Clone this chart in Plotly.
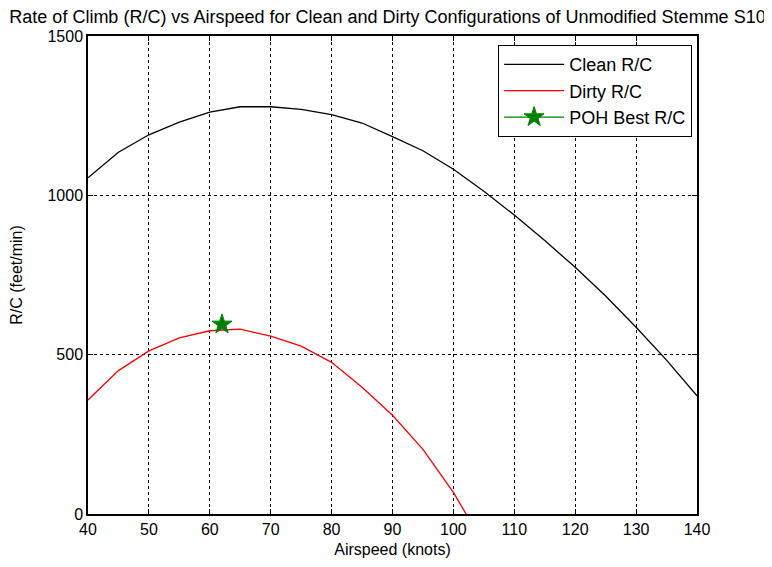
import plotly.graph_objects as go

airspeed = [40, 45, 50, 55, 60, 65, 70, 75, 80, 85, 90, 95, 100, 105, 110, 115, 120, 125, 130, 135, 140]
clean_rc = [1055, 1135, 1190, 1230, 1261, 1278, 1278, 1270, 1253, 1227, 1184, 1140, 1082, 1013, 938, 858, 774, 684, 586, 483, 371]
dirty_speed = [40, 45, 50, 55, 60, 65, 70, 75, 80, 85, 90, 95, 100, 105]
dirty_rc = [358, 450, 512, 553, 575, 580, 558, 527, 476, 398, 310, 203, 68, -95]
poh_speed = [62]
poh_rc = [595]

xticks = [40, 50, 60, 70, 80, 90, 100, 110, 120, 130, 140]
yticks = [0, 500, 1000, 1500]

FONT = "Liberation Sans, Arial, sans-serif"

fig = go.Figure()
fig.add_trace(go.Scatter(x=airspeed, y=clean_rc, mode="lines", name="Clean R/C",
                         line=dict(color="black", width=1.3)))
fig.add_trace(go.Scatter(x=dirty_speed, y=dirty_rc, mode="lines", name="Dirty R/C",
                         line=dict(color="red", width=1.3)))
fig.add_trace(go.Scatter(x=poh_speed, y=poh_rc, mode="lines+markers", name="POH Best R/C",
                         line=dict(color="green", width=1.3),
                         marker=dict(symbol="star", size=15, color="green",
                                     line=dict(color="green", width=1))))

axis_common = dict(
    showline=True, linecolor="black", linewidth=1.5, mirror="ticks",
    ticks="inside", ticklen=5, tickcolor="black", tickwidth=1,
    showgrid=True, gridcolor="black", griddash="dot", gridwidth=1,
    zeroline=False, automargin=False,
    tickfont=dict(family=FONT, size=16, color="black"),
)

fig.update_layout(
    width=772, height=567,
    margin=dict(l=80, r=83, t=28, b=61),
    paper_bgcolor="white", plot_bgcolor="white",
    font=dict(family=FONT, size=16, color="black"),
    title=dict(text="Rate of Climb (R/C) vs Airspeed for Clean and Dirty Configurations of Unmodified Stemme S10",
               x=0.4916, xanchor="center", y=0.984, yanchor="middle",
               font=dict(family=FONT, size=18, color="black")),
    xaxis=dict(range=[40, 140], tickvals=xticks,
               title=dict(text="Airspeed (knots)", standoff=7,
                          font=dict(family=FONT, size=16, color="black")),
               **axis_common),
    yaxis=dict(range=[0, 1500], tickvals=yticks,
               title=dict(text="R/C (feet/min)", standoff=21,
                          font=dict(family=FONT, size=16, color="black")),
               **axis_common),
    legend=dict(x=0.992, xanchor="right", y=0.981, yanchor="top",
                bgcolor="white", bordercolor="black", borderwidth=1,
                font=dict(family=FONT, size=18, color="black"),
                tracegroupgap=0, itemwidth=60),
    showlegend=True,
)

fig.write_html("out.html")
